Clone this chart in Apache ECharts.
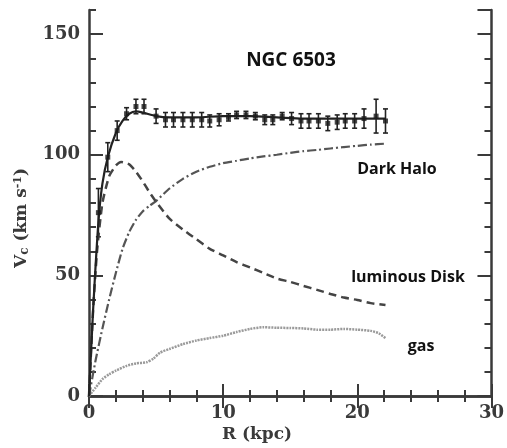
<!DOCTYPE html>
<html>
<head>
<meta charset="utf-8">
<script src="https://cdn.jsdelivr.net/npm/echarts@6/dist/echarts.min.js"></script>
<style>
  html, body { margin: 0; padding: 0; background: #fff; }
  #main { width: 507px; height: 448px; }
</style>
</head>
<body>
<div id="main"></div>
<script>
// observed rotation curve points (R in kpc, v in km/s, error)
var obsR   = [0.7, 1.4, 2.1, 2.8, 3.5, 4.1, 5.0, 5.7, 6.3, 7.0, 7.7, 8.4, 9.0, 9.7, 10.4, 11.0, 11.7, 12.4, 13.1, 13.7, 14.4, 15.1, 15.8, 16.4, 17.1, 17.8, 18.5, 19.1, 19.8, 20.5, 21.4, 22.1];
var obsV   = [76, 99, 110, 117, 120, 120, 116, 114.5, 114.5, 114.5, 114.5, 114.5, 114, 114.5, 115.5, 116.5, 116.5, 116, 114.5, 114.5, 116, 115, 114, 114, 114, 113, 113.5, 114, 114, 115, 116, 114];
var obsErr = [10, 6, 4, 2.5, 3, 3, 3, 3, 3, 3, 3, 3, 2.5, 2.5, 1.5, 1.5, 1.5, 1.5, 2, 2, 1.5, 2.5, 3, 3, 3, 3, 3, 3, 3, 4, 7, 5];

// model fit (total)
var fitR = [0, 0.3, 0.7, 1.0, 1.4, 2.0, 2.5, 3.0, 3.5, 4.0, 5.0, 6.0, 8.0, 10.0, 12.0, 14.0, 16.0, 18.0, 20.0, 22.1];
var fitV = [0, 35, 72, 88, 99, 109, 114, 117, 118, 117.5, 116, 115.5, 115.5, 116, 116, 115.5, 115, 115, 115, 115];

// luminous disk
var diskR = [0, 0.3, 0.6, 1.0, 1.5, 2.0, 2.4, 3.0, 3.5, 4.0, 4.5, 5.0, 6, 7, 8, 9, 10, 11, 12, 13, 14, 15, 16, 17, 18, 19, 20, 21, 22.1];
var diskV = [0, 35, 60, 80, 91, 95.5, 97, 96, 93, 89, 84.5, 80.5, 73.5, 69, 65, 61, 58.3, 55.5, 53.3, 51, 48.7, 47.3, 45.6, 44, 42.3, 40.8, 39.8, 38.5, 37.7];

// dark halo
var haloR = [0, 0.5, 1.0, 1.5, 2.0, 2.5, 3.0, 3.5, 4.0, 4.5, 5.0, 6, 7, 8, 9, 10, 11, 12, 13, 14, 15, 16, 17, 18, 19, 20, 21, 22.1];
var haloV = [0, 15, 28, 40, 51, 61, 68, 73, 76.5, 78.8, 80.8, 86, 90, 93, 95, 96.5, 97.5, 98.5, 99.3, 100, 100.8, 101.5, 102, 102.6, 103.2, 103.7, 104.2, 104.6];

// gas
var gasR = [0, 0.5, 1.0, 1.5, 2.0, 2.8, 3.5, 4.3, 4.8, 5.3, 6, 7, 8, 9, 10, 11, 12, 13, 14, 15, 16, 17, 18, 19, 20, 21, 21.6, 22.1];
var gasV = [0, 3.5, 7, 9, 10.5, 12.5, 13.5, 14, 15.5, 18, 19.5, 21.5, 23, 24, 25, 26.5, 27.8, 28.5, 28.3, 28.2, 28, 27.5, 27.5, 27.8, 27.5, 27, 26, 24];

function pairs(xs, ys) {
    return xs.map(function (x, i) { return [x, ys[i]]; });
}

var axisColor = '#3a3a3a';
var labelFont = { fontFamily: 'DejaVu Serif', fontWeight: 'bold', fontSize: 18, color: '#3a3a3a' };

var myChart = echarts.init(document.getElementById('main'));

var option = {
    backgroundColor: '#fff',
    animation: false,
    grid: { left: 89, right: 14, top: 10, bottom: 52 },
    xAxis: [
        {
            type: 'value', min: 0, max: 30, interval: 10, position: 'bottom',
            axisLine: { show: true, lineStyle: { color: axisColor, width: 2.5 } },
            axisTick: { inside: true, length: 12, lineStyle: { color: axisColor, width: 2 } },
            minorTick: { show: true, splitNumber: 5, length: 6, lineStyle: { color: axisColor, width: 2 } },
            axisLabel: Object.assign({ margin: 8 }, labelFont),
            splitLine: { show: false }
        },
        {
            type: 'value', min: 0, max: 30, interval: 10, position: 'top',
            axisLine: { show: true, lineStyle: { color: axisColor, width: 2.5 } },
            axisTick: { inside: true, length: 12, lineStyle: { color: axisColor, width: 2 } },
            minorTick: { show: true, splitNumber: 5, length: 6, lineStyle: { color: axisColor, width: 2 } },
            axisLabel: { show: false },
            splitLine: { show: false }
        }
    ],
    yAxis: [
        {
            type: 'value', min: 0, max: 160, interval: 50, position: 'left',
            axisLine: { show: true, lineStyle: { color: axisColor, width: 2.5 } },
            axisTick: { inside: true, length: 14, lineStyle: { color: axisColor, width: 2 } },
            axisLabel: Object.assign({ margin: 9, showMaxLabel: false }, labelFont),
            splitLine: { show: false }
        },
        {
            type: 'value', min: 0, max: 160, interval: 10, position: 'left',
            axisLine: { show: false },
            axisTick: { inside: true, length: 7, lineStyle: { color: axisColor, width: 2 } },
            axisLabel: { show: false },
            splitLine: { show: false }
        },
        {
            type: 'value', min: 0, max: 160, interval: 50, position: 'right',
            axisLine: { show: true, lineStyle: { color: axisColor, width: 2.5 } },
            axisTick: { inside: true, length: 14, lineStyle: { color: axisColor, width: 2 } },
            axisLabel: { show: false },
            splitLine: { show: false }
        },
        {
            type: 'value', min: 0, max: 160, interval: 10, position: 'right',
            axisLine: { show: false },
            axisTick: { inside: true, length: 7, lineStyle: { color: axisColor, width: 2 } },
            axisLabel: { show: false },
            splitLine: { show: false }
        }
    ],
    graphic: [
        {
            type: 'text', x: 22, y: 218, rotation: Math.PI / 2,
            style: {
                text: 'V{sub|c} (km s{sup|-1})',
                fontFamily: 'DejaVu Serif', fontWeight: 'bold', fontSize: 17, fill: '#3a3a3a',
                align: 'center', verticalAlign: 'middle',
                rich: {
                    sub: { fontFamily: 'DejaVu Serif', fontWeight: 'bold', fontSize: 12, fill: '#3a3a3a', verticalAlign: 'bottom', padding: [6, 0, 0, 0] },
                    sup: { fontFamily: 'DejaVu Serif', fontWeight: 'bold', fontSize: 11, fill: '#3a3a3a', verticalAlign: 'top', padding: [0, 0, 6, 0] }
                }
            }
        },
        {
            type: 'text', x: 257, y: 435,
            style: { text: 'R (kpc)', fontFamily: 'DejaVu Serif', fontWeight: 'bold', fontSize: 17, fill: '#3a3a3a', align: 'center', verticalAlign: 'middle' }
        },
        {
            type: 'text', x: 291, y: 61,
            style: { text: 'NGC 6503', fontFamily: 'Open Sans', fontWeight: 'bold', fontSize: 19, fill: '#111', align: 'center', verticalAlign: 'middle' }
        },
        {
            type: 'text', x: 397, y: 169,
            style: { text: 'Dark Halo', fontFamily: 'Open Sans', fontWeight: 'bold', fontSize: 16, fill: '#111', align: 'center', verticalAlign: 'middle' }
        },
        {
            type: 'text', x: 408, y: 277,
            style: { text: 'luminous Disk', fontFamily: 'Open Sans', fontWeight: 'bold', fontSize: 16, fill: '#111', align: 'center', verticalAlign: 'middle' }
        },
        {
            type: 'text', x: 421, y: 346,
            style: { text: 'gas', fontFamily: 'Open Sans', fontWeight: 'bold', fontSize: 16, fill: '#111', align: 'center', verticalAlign: 'middle' }
        }
    ],
    series: [
        {
            name: 'gas', type: 'line', data: pairs(gasR, gasV), showSymbol: false, smooth: 0.2,
            lineStyle: { color: '#9a9a9a', width: 2.5, type: [2, 1] }
        },
        {
            name: 'halo', type: 'line', data: pairs(haloR, haloV), showSymbol: false, smooth: 0.2,
            lineStyle: { color: '#555', width: 2.2, type: [9, 3, 2, 3] }
        },
        {
            name: 'disk', type: 'line', data: pairs(diskR, diskV), showSymbol: false, smooth: 0.2,
            lineStyle: { color: '#444', width: 2.5, type: [8, 5] }
        },
        {
            name: 'fit', type: 'line', data: pairs(fitR, fitV), showSymbol: false, smooth: 0.3,
            lineStyle: { color: '#222', width: 2.2 }
        },
        {
            name: 'errors', type: 'custom',
            data: obsR.map(function (r, i) { return [r, obsV[i] - obsErr[i], obsV[i] + obsErr[i]]; }),
            renderItem: function (params, api) {
                var lo = api.coord([api.value(0), api.value(1)]);
                var hi = api.coord([api.value(0), api.value(2)]);
                var cap = 2.5;
                var st = { stroke: '#222', lineWidth: 1.6 };
                return {
                    type: 'group',
                    children: [
                        { type: 'line', shape: { x1: lo[0], y1: lo[1], x2: hi[0], y2: hi[1] }, style: st },
                        { type: 'line', shape: { x1: lo[0] - cap, y1: lo[1], x2: lo[0] + cap, y2: lo[1] }, style: st },
                        { type: 'line', shape: { x1: hi[0] - cap, y1: hi[1], x2: hi[0] + cap, y2: hi[1] }, style: st }
                    ]
                };
            },
            z: 3
        },
        {
            name: 'obs', type: 'scatter', data: pairs(obsR, obsV),
            symbol: 'rect', symbolSize: 5,
            itemStyle: { color: '#1a1a1a' },
            z: 4
        }
    ]
};

myChart.setOption(option);
window.onresize = function () { myChart.resize(); };
</script>
</body>
</html>
